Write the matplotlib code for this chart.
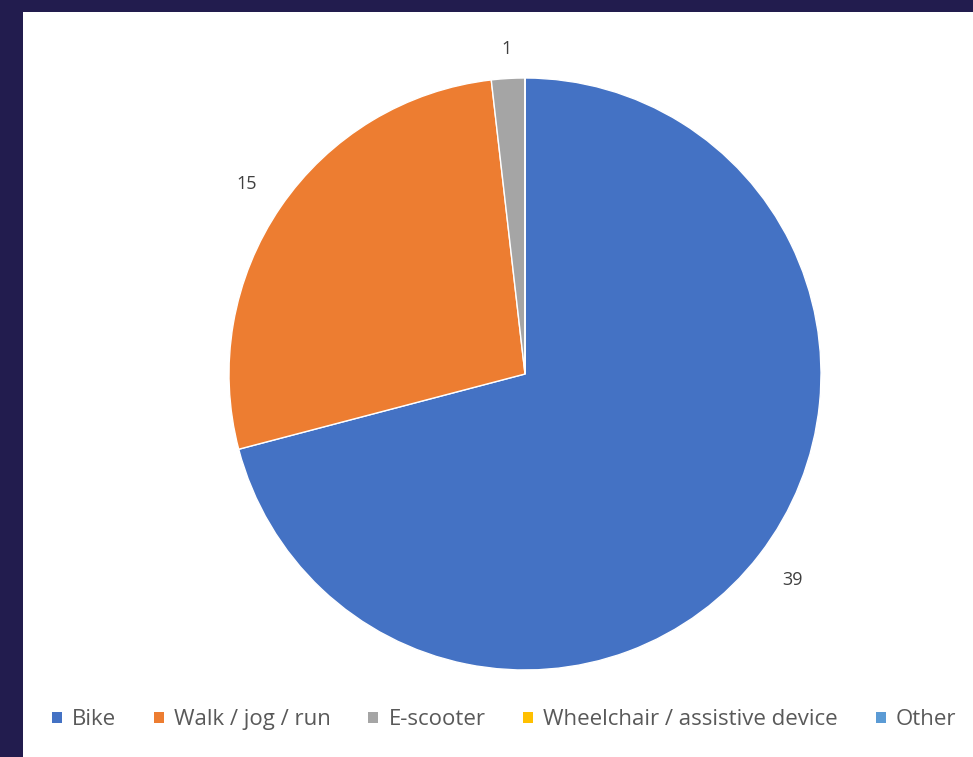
import matplotlib.pyplot as plt
from matplotlib.patches import Rectangle
import numpy as np

# Data
categories = ['Bike', 'Walk / jog / run', 'E-scooter', 'Wheelchair / assistive device', 'Other']
counts = [39, 15, 1, 0, 0]
colors = ['#4472C4', '#ED7D31', '#A5A5A5', '#FFC000', '#5B9BD5']

W, H = 973, 757
fig = plt.figure(figsize=(W / 100, H / 100), dpi=100)
fig.patch.set_facecolor('#221c4e')

# white chart panel
fig.patches.append(Rectangle((23 / W, 0), 1 - 23 / W, 1 - 12 / H,
                             transform=fig.transFigure, facecolor='white',
                             edgecolor='none', zorder=-5))

# pie axes: centre (525, 374) px, radius ~296 px
cx, cy, r = 525, 374, 296
ax = fig.add_axes([(cx - r) / W, (H - cy - r) / H, 2 * r / W, 2 * r / H])
ax.set_zorder(2)
ax.set_aspect('equal')

wedges, _ = ax.pie(counts, colors=colors, startangle=90, counterclock=False,
                   radius=1, wedgeprops=dict(edgecolor='white', linewidth=1))
ax.set_xlim(-1, 1)
ax.set_ylim(-1, 1)

# data labels outside the slices
for w, v in zip(wedges, counts):
    if v == 0:
        continue
    mid = np.deg2rad((w.theta1 + w.theta2) / 2)
    d = 1.1 if v < 5 else 1.14
    ax.text(d * np.cos(mid), d * np.sin(mid), str(v), ha='center', va='center',
            fontsize=13, color='#404040', family='Open Sans')

handles = [Rectangle((0, 0), 1, 1, facecolor=c) for c in colors]
leg = fig.legend(handles, categories, loc='center', bbox_to_anchor=(504 / W, 0.049),
                 ncol=5, frameon=False, handlelength=0.45, handleheight=0.45,
                 handletextpad=0.45, columnspacing=1.7, borderpad=0,
                 prop=dict(family='Open Sans', size=16), labelcolor='#595959')
leg.set_zorder(3)

fig.savefig('out.png', dpi=100, facecolor=fig.get_facecolor())
